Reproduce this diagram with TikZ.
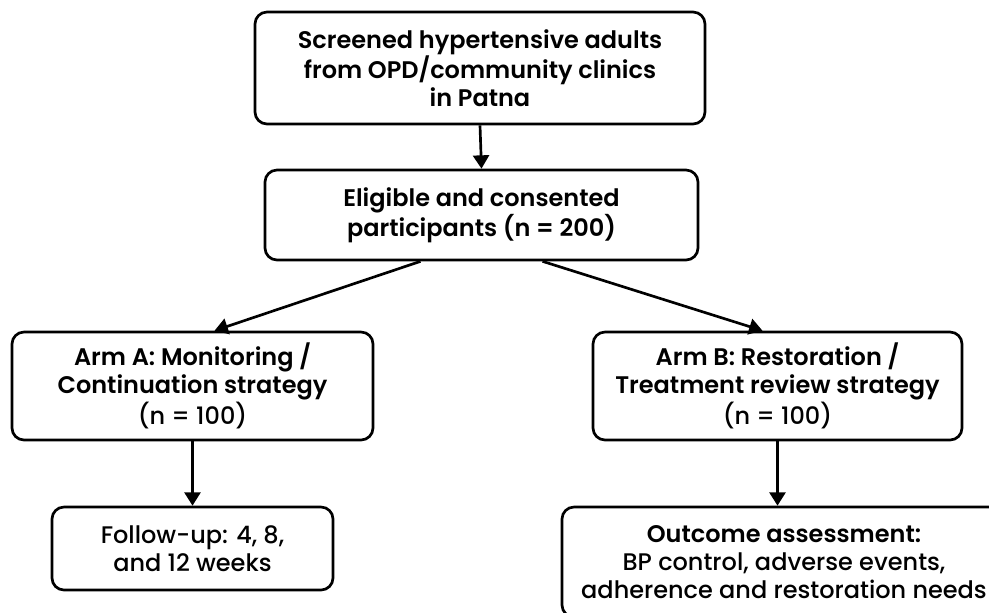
\documentclass[tikz,border=0pt]{standalone}
\usepackage{fontspec}
\setmainfont{Poppins}[UprightFont=* Medium, BoldFont=* SemiBold]
\usetikzlibrary{arrows.meta,calc}

\begin{document}
\begin{tikzpicture}[x=0.75pt,y=-0.75pt,
    box/.style={draw, line width=2pt, rounded corners=9pt, align=center, inner sep=0pt,
                font=\fontsize{18}{21}\selectfont},
    arr/.style={line width=2pt, -{Triangle[width=12pt,length=10pt]}}]
    \fill[white] (0,0) rectangle (989,612);
    \useasboundingbox (0,0) rectangle (989,612);
    \clip (0,0) rectangle (989,612);
    % Screening and enrolment
    \node[box, minimum width=337.5pt, minimum height=84pt] (screen) at (480,68)
        {\textbf{Screened hypertensive adults}\\ \textbf{from OPD/community clinics}\\ \textbf{in Patna}};
    \node[box, minimum width=324.75pt, minimum height=67.5pt] (elig) at (481.5,215)
        {\textbf{Eligible and consented}\\ \textbf{participants (n = 200)}};
    % Arms
    \node[box, minimum width=270.75pt, minimum height=81pt] (armA) at (192.5,386)
        {\textbf{Arm A: Monitoring /}\\ \textbf{Continuation strategy}\\ (n = 100)};
    \node[box, minimum width=276.75pt, minimum height=81pt] (armB) at (777.5,386)
        {\textbf{Arm B: Restoration /}\\ \textbf{Treatment review strategy}\\ (n = 100)};
    % Follow-up and outcomes
    \node[box, minimum width=210.75pt, minimum height=62.25pt] (follow) at (192.5,548.5)
        {Follow-up: 4, 8,\\ and 12 weeks};
    \node[box, minimum width=333pt, minimum height=82.5pt] (outcome) at (784,562)
        {\textbf{Outcome assessment:}\\ BP control, adverse events,\\ adherence and restoration needs};
    % Connectors
    \draw[arr] (screen.south) -- (elig.north);
    \draw[arr] ($(elig.south)+(-61,0)$) -- ($(armA.north)+(22,0)$);
    \draw[arr] ($(elig.south)+(61,0)$) -- ($(armB.north)+(-15,0)$);
    \draw[arr] (armA.south) -- (follow.north);
    \draw[arr] (armB.south) -- (armB.south |- outcome.north);
\end{tikzpicture}
\end{document}
